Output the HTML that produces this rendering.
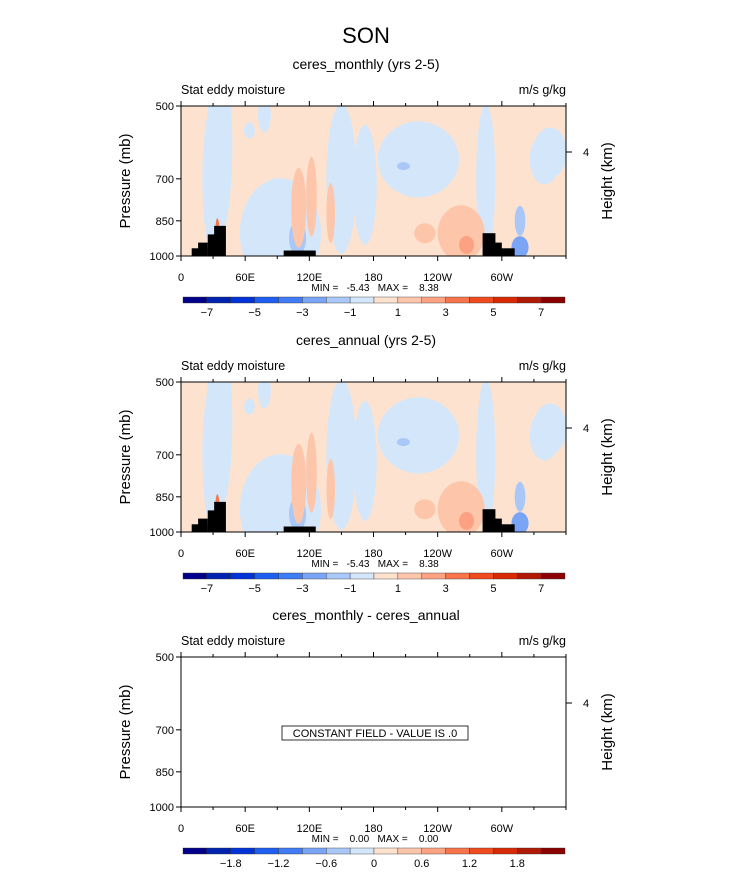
<!DOCTYPE html>
<html><head><meta charset="utf-8"><style>
body{margin:0;background:#fff;font-family:"Liberation Sans",sans-serif}
svg text{font-family:"Liberation Sans",sans-serif;fill:#000}
</style></head><body>
<svg id="c" width="733" height="872" xmlns="http://www.w3.org/2000/svg">
<text x="366" y="43" font-size="22" text-anchor="middle">SON</text>
</svg>
<script>
const svg=document.getElementById('c');const NS='http://www.w3.org/2000/svg';
const lonTicks=[0,60,120,180,240,300];
const lonLabels=['0','60E','120E','180','120W','60W'];
const presTicks=[500,700,850,1000];
const colors=['#00008a','#0022b0','#0033d8','#1e5ef0','#3f7cf5','#7aa4f5','#a9c8f7','#d3e6fa','#fde3cf','#fdc6ab','#fca283','#f8744b','#f04a1f','#d82a06','#b01a04','#8a0000'];
const cbLabelsA=['-7','-5','-3','-1','1','3','5','7'];
const cbLabelsB=['-1.8','-1.2','-0.6','0','0.6','1.2','1.8'];
// blobs: [lonCenter, pressureCenter, lonHalfWidth(deg), pixelHalfHeight, colorIndex]
const blobLon=[30,36,93,109,150,172,222,285,340,78,262,267,208,110,122,34,228,317,317,345,64,140];
const blobPres=[700,600,900,920,700,720,640,700,640,520,900,950,660,800,760,900,900,850,960,620,560,820];
const blobW=[10,12,38,8,14,11,38,9,14,6,22,7,6,7,5,2,10,5,8,16,5,4];
const blobH=[75,90,55,17,75,60,38,75,25,18,28,9,4,40,40,15,10,15,11,25,8,30];
const blobC=[7,7,7,6,7,7,7,7,7,7,9,10,6,9,9,11,9,6,5,7,7,9];
const mtnLon=[[10,25],[16,25],[25,32],[31,42],[96,126],[282,294],[288,300],[294,312]];
const mtnTop=[965,940,905,870,975,900,940,965];
function X(l){return 181+l*385/360}
function Y(p,y0){return y0+150*Math.log(p/500)/Math.log(2)}
function el(t,a,txt,par){const e=document.createElementNS(NS,t);for(const k in a)e.setAttribute(k,a[k]);if(txt!==undefined)e.textContent=txt;(par||svg).appendChild(e);return e}
function panel(y0,title,filled,idx){
  const g=el('g',{});
  
  
  const t=el('text',{x:366,y:y0-37,'font-size':14,'text-anchor':'middle'},title,g);
  
  el('text',{x:181,y:y0-12,'font-size':12.5},'Stat eddy moisture',g);
  el('text',{x:566,y:y0-12,'font-size':12.5,'text-anchor':'end'},'m/s g/kg',g);
  const cp=el('clipPath',{id:'cp'+idx},undefined,g);el('rect',{x:181,y:y0,width:385,height:150},undefined,cp);
  if(filled){
    el('rect',{x:181,y:y0,width:385,height:150,fill:colors[8]},undefined,g);
    const f=el('g',{'clip-path':'url(#cp'+idx+')'},undefined,g);
    for(let i=0;i<blobLon.length;i++){
      const b=el('ellipse',{cx:X(blobLon[i]),cy:Y(blobPres[i],y0),rx:blobW[i]*385/360,ry:blobH[i],fill:colors[blobC[i]]},undefined,f);
      
    }
    for(let i=0;i<mtnLon.length;i++){
      const m=el('rect',{x:X(mtnLon[i][0]),y:Y(mtnTop[i],y0),width:X(mtnLon[i][1])-X(mtnLon[i][0]),height:y0+150-Y(mtnTop[i],y0),fill:'#000'},undefined,f);
      
    }
  } else {
    el('rect',{x:282,y:y0+69,width:186,height:14,fill:'#fff',stroke:'#000','stroke-width':0.8},undefined,g);
    el('text',{x:375,y:y0+80,'font-size':11,'text-anchor':'middle'},'CONSTANT FIELD - VALUE IS .0',g);
  }
  el('rect',{x:181,y:y0,width:385,height:150,fill:'none',stroke:'#000','stroke-width':1},undefined,g);
  for(let l=0;l<=360;l+=30){
    const big=l%60==0&&l<360;const len=big?5:3;
    el('line',{x1:X(l),x2:X(l),y1:y0+150,y2:y0+150+len,stroke:'#000'},undefined,g);
    el('line',{x1:X(l),x2:X(l),y1:y0,y2:y0-len,stroke:'#000'},undefined,g);
  }
  lonTicks.forEach((l,i)=>el('text',{x:X(l),y:y0+175,'font-size':11,'text-anchor':'middle'},lonLabels[i],g));
  presTicks.forEach(p=>{el('line',{x1:176,x2:181,y1:Y(p,y0),y2:Y(p,y0),stroke:'#000'},undefined,g);
    el('text',{x:174,y:Y(p,y0)+4,'font-size':11,'text-anchor':'end'},p,g);});
  el('line',{x1:566,x2:572,y1:y0+46,y2:y0+46,stroke:'#000'},undefined,g);
  el('text',{x:583,y:y0+50,'font-size':11},'4',g);
  el('text',{x:0,y:0,'font-size':15,'text-anchor':'middle',transform:`translate(130,${y0+75}) rotate(-90)`},'Pressure (mb)',g);
  el('text',{x:0,y:0,'font-size':15,'text-anchor':'middle',transform:`translate(612,${y0+75}) rotate(-90)`},'Height (km)',g);
  el('text',{x:375,y:y0+185,'font-size':10,'text-anchor':'middle','xml:space':'preserve',style:'white-space:pre'},filled?'MIN =   -5.43   MAX =    8.38':'MIN =    0.00   MAX =    0.00',g);
  const cy=y0+191,cw=(565-183)/16;
  for(let i=0;i<16;i++){const r=el('rect',{x:183+i*cw,y:cy,width:cw,height:6,fill:colors[i],stroke:'#333','stroke-width':0.4},undefined,g);
    }
  if(filled) cbLabelsA.forEach((s,i)=>el('text',{x:183+(1+2*i)*cw,y:cy+19,'font-size':11,'text-anchor':'middle'},s.replace('-','−'),g));
  else cbLabelsB.forEach((s,i)=>el('text',{x:183+(2+2*i)*cw,y:cy+19,'font-size':11,'text-anchor':'middle'},s.replace('-','−'),g));
}
panel(106,'ceres_monthly (yrs 2-5)',true,1);
panel(382,'ceres_annual (yrs 2-5)',true,2);
panel(657,'ceres_monthly - ceres_annual',false,3);
</script>
</body></html>
